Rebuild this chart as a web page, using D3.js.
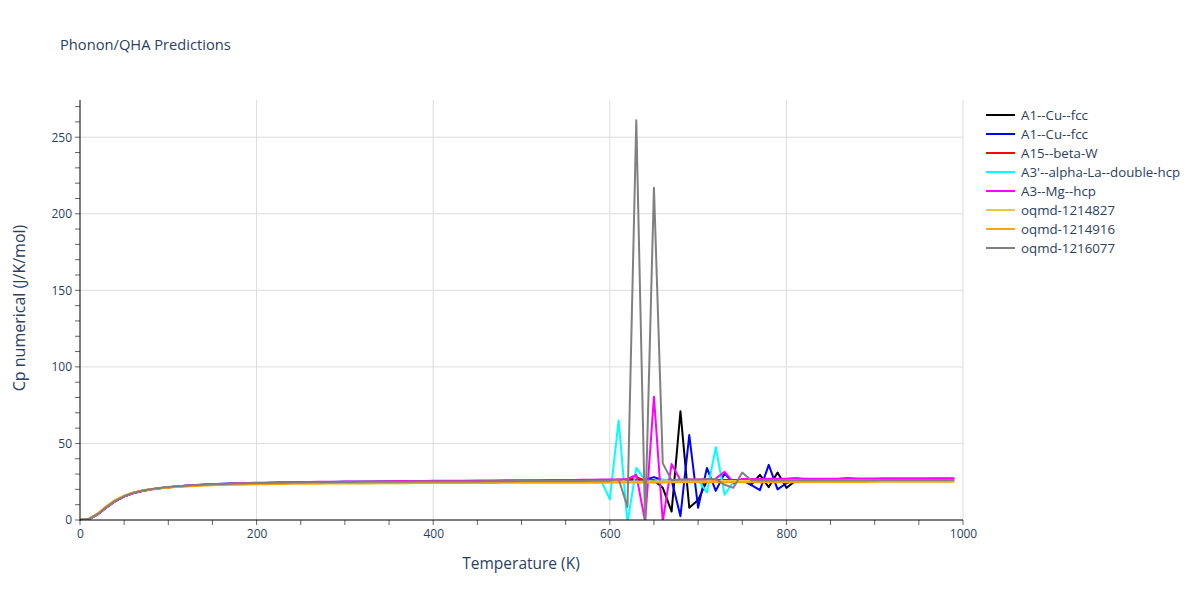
<!DOCTYPE html>
<html><head><meta charset="utf-8">
<script src="https://cdn.jsdelivr.net/npm/d3@7"></script>
<style>body{margin:0;background:#fff;font-family:"Open Sans",Arial,sans-serif;}</style>
</head><body><svg id="c" width="1200" height="600"></svg>
<script>
const temperatures = d3.range(0, 1000, 10);
const seriesNames = ["A1--Cu--fcc","A1--Cu--fcc","A15--beta-W","A3'--alpha-La--double-hcp","A3--Mg--hcp","oqmd-1214827","oqmd-1214916","oqmd-1216077"];
const seriesColors = ["#000000","#0000ff","#ff0000","#00ffff","#ff00ff","#f0c542","#ffa500","#808080"];
const cpBlack = [0,0.6,3.8,8.4,12.5,15.5,17.6,19.0,20.0,20.8,
21.4,21.9,22.3,22.7,23.0,23.2,23.4,23.6,23.8,23.9,
24.0,24.1,24.2,24.3,24.4,24.4,24.5,24.5,24.6,24.6,
24.7,24.7,24.8,24.8,24.8,24.9,24.9,24.9,25.0,25.0,
25.0,25.0,25.1,25.1,25.1,25.1,25.2,25.2,25.2,25.2,
25.3,25.3,25.3,25.3,25.4,25.4,25.4,25.4,25.5,25.5,
25.5,25.6,25.6,25.7,25.8,26.0,21.0,5.5,71.0,8.0,
13.0,25.5,26.5,25.0,25.5,26.0,23.0,29.5,21.5,31.0,
21.0,25.5,25.8,25.8,25.8,25.9,25.9,25.9,25.9,26.0,
26.0,26.0,26.0,26.0,26.1,26.1,26.1,26.1,26.1,26.2];
const cpBlue = [0,0.6,3.7,8.3,12.4,15.4,17.6,19.0,20.0,20.8,
21.4,21.9,22.3,22.7,23.0,23.3,23.5,23.7,23.9,24.0,
24.1,24.2,24.3,24.4,24.5,24.5,24.6,24.7,24.7,24.8,
24.9,24.9,25.0,25.0,25.1,25.1,25.1,25.2,25.2,25.2,
25.3,25.3,25.3,25.4,25.4,25.4,25.5,25.5,25.5,25.6,
25.6,25.6,25.7,25.7,25.7,25.8,25.8,25.8,25.9,25.9,
26.0,26.0,26.1,26.2,26.3,28.0,26.0,26.0,2.5,55.5,
8.0,34.0,19.0,30.5,24.0,26.5,23.0,19.5,36.0,20.0,
24.0,26.5,26.5,26.5,26.6,26.6,26.6,26.6,26.7,26.7,
26.7,26.7,26.8,26.8,26.8,26.8,26.8,26.9,26.9,26.9];
const cpRed = [0,0.5,3.6,8.2,12.3,15.3,17.5,18.9,19.9,20.7,
21.3,21.8,22.2,22.6,22.9,23.2,23.4,23.6,23.8,23.9,
24.0,24.1,24.2,24.3,24.4,24.5,24.5,24.6,24.6,24.7,
24.7,24.8,24.8,24.9,24.9,24.9,25.0,25.0,25.0,25.1,
25.1,25.1,25.2,25.2,25.2,25.2,25.3,25.3,25.3,25.3,
25.4,25.4,25.4,25.4,25.5,25.5,25.5,25.5,25.6,25.6,
25.6,25.7,26.5,28.0,25.8,25.8,25.9,25.9,25.9,26.0,
26.0,26.0,26.0,26.1,26.1,26.1,26.1,26.2,26.2,26.2,
26.2,26.3,26.3,26.3,26.3,26.3,26.4,26.4,26.4,26.4,
26.4,26.5,26.5,26.5,26.5,26.5,26.6,26.6,26.6,26.6];
const cpCyan = [0,0.6,3.8,8.4,12.5,15.5,17.7,19.1,20.1,20.9,
21.5,22.0,22.4,22.8,23.1,23.4,23.6,23.8,24.0,24.1,
24.2,24.3,24.4,24.5,24.6,24.6,24.7,24.8,24.8,24.9,
24.9,25.0,25.0,25.1,25.1,25.2,25.2,25.2,25.3,25.3,
25.3,25.4,25.4,25.4,25.5,25.5,25.5,25.6,25.6,25.6,
25.7,25.7,25.7,25.8,25.8,25.8,25.9,25.9,26.0,26.0,
13.5,65.0,-2.0,34.0,26.0,25.0,26.5,25.5,26.0,25.5,
26.0,18.0,47.5,16.5,25.0,26.5,26.0,26.0,26.0,26.0,
26.1,26.1,26.1,26.1,26.2,26.2,26.2,26.2,26.2,26.3,
26.3,26.3,26.3,26.3,26.3,26.4,26.4,26.4,26.4,26.4];
const cpMagenta = [0,0.5,3.6,8.2,12.3,15.3,17.5,19.0,20.0,20.8,
21.4,21.9,22.4,22.8,23.1,23.4,23.6,23.8,24.0,24.2,
24.3,24.4,24.5,24.6,24.7,24.8,24.8,24.9,25.0,25.0,
25.1,25.1,25.2,25.2,25.3,25.3,25.4,25.4,25.5,25.5,
25.6,25.6,25.6,25.7,25.7,25.8,25.8,25.8,25.9,25.9,
26.0,26.0,26.0,26.1,26.1,26.2,26.2,26.3,26.3,26.4,
26.4,26.5,26.8,29.5,-1.0,80.5,-1.0,36.5,26.0,26.5,
26.5,26.5,27.0,31.5,24.5,26.8,26.8,26.8,26.9,26.9,
26.9,27.5,27.0,27.0,27.0,27.0,27.1,27.5,27.1,27.1,
27.1,27.2,27.2,27.2,27.2,27.3,27.3,27.3,27.2,27.2];
const cpYellow = [0,0.7,4.0,8.7,12.8,15.7,17.8,19.2,20.1,20.8,
21.3,21.7,22.1,22.4,22.7,22.9,23.1,23.3,23.5,23.6,
23.7,23.8,23.9,24.0,24.0,24.1,24.1,24.2,24.2,24.3,
24.3,24.4,24.4,24.4,24.5,24.5,24.5,24.6,24.6,24.6,
24.7,24.7,24.7,24.7,24.8,24.8,24.8,24.8,24.9,24.9,
24.9,24.9,25.0,25.0,25.0,25.0,25.0,25.1,25.1,25.1,
25.1,25.1,25.2,25.2,25.2,25.2,25.2,25.3,25.3,25.3,
25.3,25.3,25.3,25.4,25.4,25.4,25.4,25.4,25.5,25.5,
25.5,25.5,25.5,25.5,25.5,25.6,25.6,25.6,25.6,25.6,
25.6,25.7,25.7,25.7,25.7,25.7,25.7,25.8,25.8,25.8];
const cpOrange = [0,0.8,4.3,9.1,13.1,15.9,17.9,19.2,20.1,20.8,
21.2,21.6,21.9,22.2,22.5,22.7,22.9,23.0,23.1,23.2,
23.3,23.4,23.5,23.5,23.6,23.6,23.7,23.7,23.8,23.8,
23.8,23.9,23.9,23.9,24.0,24.0,24.0,24.0,24.1,24.1,
24.1,24.1,24.1,24.2,24.2,24.2,24.2,24.2,24.3,24.3,
24.3,24.3,24.3,24.3,24.4,24.4,24.4,24.4,24.4,24.4,
24.5,24.5,24.5,24.5,24.5,24.5,24.5,24.6,24.6,24.6,
24.6,24.6,24.6,24.6,24.7,24.7,24.7,24.7,24.7,24.7,
24.7,24.7,24.8,24.8,24.8,24.8,24.8,24.8,24.8,24.8,
24.9,24.9,24.9,24.9,24.9,24.9,24.9,24.9,24.9,25.0];
const cpGray = [0,0.6,3.8,8.4,12.5,15.5,17.7,19.1,20.1,20.9,
21.5,22.0,22.4,22.8,23.1,23.3,23.5,23.7,23.9,24.0,
24.1,24.2,24.3,24.4,24.5,24.5,24.6,24.6,24.7,24.7,
24.8,24.8,24.9,24.9,24.9,25.0,25.0,25.0,25.1,25.1,
25.1,25.1,25.2,25.2,25.2,25.2,25.3,25.3,25.3,25.3,
25.4,25.4,25.4,25.4,25.5,25.5,25.5,25.5,25.6,25.6,
25.6,26.8,8.5,261.0,-2.0,217.0,37.0,26.0,26.5,26.5,
26.5,26.8,26.8,23.0,21.0,31.0,26.0,25.8,25.8,25.8,
25.8,25.9,25.9,25.9,25.9,26.0,26.0,26.0,26.0,26.0,
26.0,26.1,26.1,26.1,26.1,26.1,26.2,26.2,26.2,26.2];
const seriesValues = [cpBlack,cpBlue,cpRed,cpCyan,cpMagenta,cpYellow,cpOrange,cpGray];
const xMajorTicks = [0,200,400,600,800,1000];
const yMajorTicks = [0,50,100,150,200,250];

const svg = d3.select("#c");
const L=80,R=963,T=100,B=520;
const x = d3.scaleLinear().domain([0,1000]).range([L,R]);
const y = d3.scaleLinear().domain([0,274.3]).range([B,T]);
const txt = "#2a3f5f";
const ff = "'Open Sans',Arial,sans-serif";

// grid
svg.append("g").selectAll("line").data(xMajorTicks.filter(d=>d>0)).join("line")
 .attr("x1",d=>x(d)).attr("x2",d=>x(d)).attr("y1",T).attr("y2",B).attr("stroke","#dcdcdc").attr("stroke-width",1);
svg.append("g").selectAll("line").data(yMajorTicks.filter(d=>d>0)).join("line")
 .attr("x1",L).attr("x2",R).attr("y1",d=>y(d)).attr("y2",d=>y(d)).attr("stroke","#dcdcdc").attr("stroke-width",1);

// minor ticks
svg.append("g").selectAll("line").data(d3.range(0,1001,50)).join("line")
 .attr("x1",d=>x(d)).attr("x2",d=>x(d)).attr("y1",B).attr("y2",B+5).attr("stroke","#666").attr("stroke-width",1);
svg.append("g").selectAll("line").data(d3.range(0,271,10)).join("line")
 .attr("x1",L-5).attr("x2",L).attr("y1",d=>y(d)).attr("y2",d=>y(d)).attr("stroke","#666").attr("stroke-width",1);

// axes with D3 axis for labels
const xAxis = d3.axisBottom(x).tickValues(xMajorTicks).tickFormat(d3.format("d")).tickSize(0).tickPadding(9);
const gx = svg.append("g").attr("transform",`translate(0,${B})`).call(xAxis);
gx.select(".domain").remove();
gx.selectAll("text").attr("fill",txt).style("font-size","12px").style("font-family",ff);
const yAxis = d3.axisLeft(y).tickValues(yMajorTicks).tickFormat(d3.format("d")).tickSize(0).tickPadding(8);
const gy = svg.append("g").attr("transform",`translate(${L},0)`).call(yAxis);
gy.select(".domain").remove();
gy.selectAll("text").attr("fill",txt).style("font-size","12px").style("font-family",ff);

// clip
svg.append("clipPath").attr("id","clip").append("rect").attr("x",L).attr("y",T).attr("width",R-L).attr("height",B-T);

const line = d3.line().x((d,i)=>x(temperatures[i])).y(d=>y(d));
const lg = svg.append("g").attr("clip-path","url(#clip)");
seriesValues.forEach((vals,k)=>{
  lg.append("path").datum(vals).attr("d",line).attr("fill","none")
    .attr("stroke",seriesColors[k]).attr("stroke-width",2).attr("stroke-linejoin","round");
});

// axis lines
svg.append("line").attr("x1",L).attr("x2",R).attr("y1",B).attr("y2",B).attr("stroke","#000").attr("stroke-width",1);
svg.append("line").attr("x1",L).attr("x2",L).attr("y1",T).attr("y2",B+1).attr("stroke","#000").attr("stroke-width",1);

// titles
svg.append("text").attr("x",60).attr("y",50).text("Phonon/QHA Predictions")
 .attr("fill",txt).style("font-size","14.7px").style("font-family",ff);
svg.append("text").attr("x",521).attr("y",569).attr("text-anchor","middle").text("Temperature (K)")
 .attr("fill",txt).style("font-size","15.5px").style("font-family",ff);
svg.append("text").attr("transform","translate(25,308) rotate(-90)").attr("text-anchor","middle").text("Cp numerical (J/K/mol)")
 .attr("fill",txt).style("font-size","16px").style("font-family",ff);

// legend
const leg = svg.append("g");
seriesNames.forEach((n,k)=>{
  const yy = 115 + k*19;
  leg.append("line").attr("x1",986).attr("x2",1015).attr("y1",yy).attr("y2",yy).attr("stroke",seriesColors[k]).attr("stroke-width",2);
  leg.append("text").attr("x",1021).attr("y",yy+4.5).text(n).attr("fill",txt)
    .style("font-size","13.3px").style("font-family",ff);
});
</script></body></html>
